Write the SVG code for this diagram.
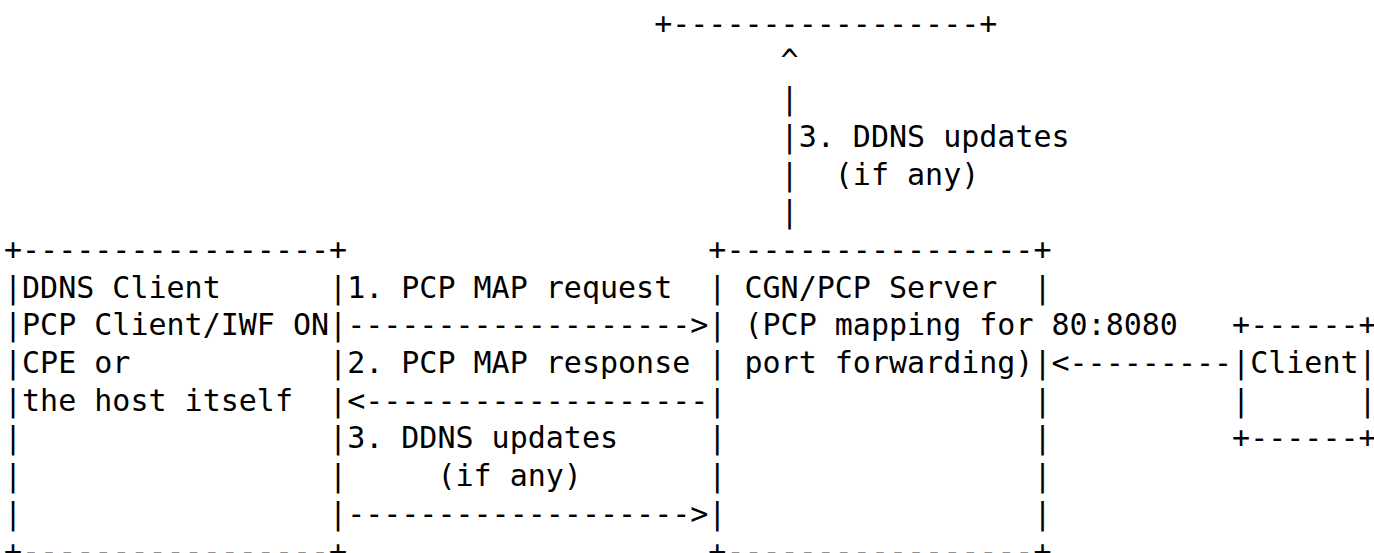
<svg xmlns="http://www.w3.org/2000/svg" width="1374" height="553" viewBox="0 0 1374 553" xml:space="preserve">
<style>
text { font-family: "DejaVu Sans Mono", "Liberation Mono", monospace; font-size: 30px; fill: #000; white-space: pre; }
</style>
<rect width="1374" height="553" fill="#fff"/>
<g id="dns-server">
<text x="654.16" y="33.7">+-----------------+</text>
</g>
<g id="ddns-client">
<text x="4" y="259.9">+-----------------+</text>
<text x="4" y="297.6">|DDNS Client      |</text>
<text x="4" y="335.3">|PCP Client/IWF ON|</text>
<text x="4" y="373">|CPE or           |</text>
<text x="4" y="410.7">|the host itself  |</text>
<text x="4" y="448.4">|                 |</text>
<text x="4" y="486.1">|                 |</text>
<text x="4" y="523.8">|                 |</text>
<text x="4" y="561.5">+-----------------+</text>
</g>
<g id="cgn-pcp-server">
<text x="708.34" y="259.9">+-----------------+</text>
<text x="708.34" y="297.6">| CGN/PCP Server  |</text>
<text x="708.34" y="335.3">|</text>
<text x="744.46" y="335.3">(PCP mapping for 80:8080</text>
<text x="708.34" y="373">| port forwarding)|</text>
<text x="708.34" y="410.7">|                 |</text>
<text x="708.34" y="448.4">|                 |</text>
<text x="708.34" y="486.1">|                 |</text>
<text x="708.34" y="523.8">|                 |</text>
<text x="708.34" y="561.5">+-----------------+</text>
</g>
<g id="client">
<text x="1232.08" y="335.3">+------+</text>
<text x="1232.08" y="373">|Client|</text>
<text x="1232.08" y="410.7">|      |</text>
<text x="1232.08" y="448.4">+------+</text>
</g>
<g id="connectors">
<text x="780.58" y="71.4">^</text>
<text x="780.58" y="109.1">|</text>
<text x="780.58" y="146.8">|3. DDNS updates</text>
<text x="780.58" y="184.5">|  (if any)</text>
<text x="780.58" y="222.2">|</text>
<text x="347.14" y="297.6">1. PCP MAP request</text>
<text x="347.14" y="335.3">-------------------&gt;</text>
<text x="347.14" y="373">2. PCP MAP response</text>
<text x="347.14" y="410.7">&lt;-------------------</text>
<text x="347.14" y="448.4">3. DDNS updates</text>
<text x="437.44" y="486.1">(if any)</text>
<text x="347.14" y="523.8">-------------------&gt;</text>
<text x="1051.48" y="373">&lt;---------</text>
</g>
</svg>
